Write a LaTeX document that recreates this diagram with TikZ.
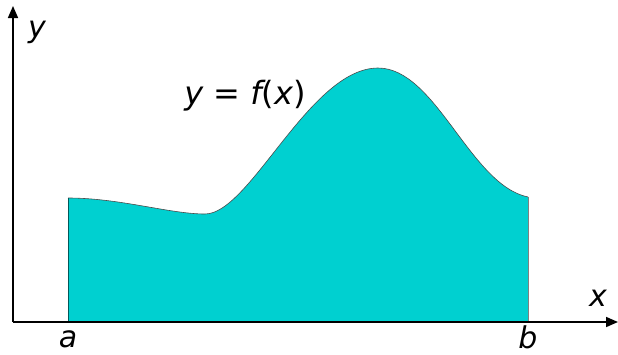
\documentclass[tikz,border=0pt]{standalone}
\usepackage{fontspec}
\setmainfont{DejaVu Sans}
\usetikzlibrary{arrows.meta}
\definecolor{areacol}{RGB}{0,208,208}
\tikzset{
  axis/.style={line width=1.6pt, -{Triangle[length=12pt,width=10pt]}},
  lbl/.style={font=\fontsize{30}{34}\selectfont\itshape, inner sep=0pt},
}
\begin{document}
\begin{tikzpicture}[x=1pt,y=-1pt]
\useasboundingbox (0,0) rectangle (618,354);
\coordinate (o) at (13,322);
\coordinate (ytip) at (13,6);
\coordinate (xtip) at (618,322);
\coordinate (pa) at (68,198);
\coordinate (pb) at (528,197);
\coordinate (ba) at (68,322);
\coordinate (bb) at (528,322);
\def\fcurve{(pa) .. controls (120,198) and (170,214) .. (205,214)
  .. controls (250,214) and (310,68) .. (378,68)
  .. controls (436,68) and (470,185) .. (pb)}
\fill[areacol] (ba) -- \fcurve -- (bb) -- cycle;
\draw[black!70, line width=0.6pt] \fcurve;
\draw[teal!70!black, line width=0.5pt] (ba) -- (pa);
\draw[black!50, line width=0.5pt] (bb) -- (pb);
\draw[axis] (o) -- (ytip);
\draw[axis] (o) -- (xtip);
\node[lbl] (ylab) at (37,32) {y};
\node[lbl] (xlab) at (598,298) {x};
\node[lbl] (alab) at (68,339) {a};
\node[lbl] (blab) at (528,337) {b};
\node[lbl, font=\fontsize{32}{36}\selectfont\itshape] (flab) at (245,96) {y {\upshape =} f{\upshape (}x{\upshape )}};
\end{tikzpicture}
\end{document}
